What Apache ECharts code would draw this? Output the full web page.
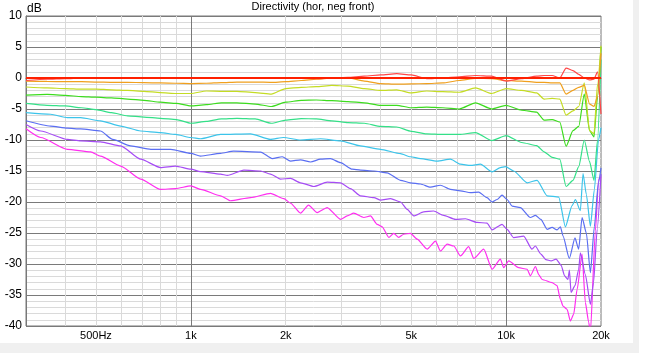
<!DOCTYPE html>
<html>
<head>
<meta charset="utf-8">
<title>Directivity (hor, neg front)</title>
<script src="https://cdn.jsdelivr.net/npm/echarts@6.0.0/dist/echarts.min.js"></script>
<style>
  html, body { margin: 0; padding: 0; background: #fff; }
  #chart { width: 645px; height: 353px; }
</style>
</head>
<body>
<div id="chart"></div>
<script>
// common frequency grid (Hz) for the upper curves
const freqs = [300, 350, 400, 450, 500, 560, 630, 710, 800, 900,
  1000, 1120, 1250, 1400, 1600, 1800, 2000, 2240, 2500, 2800,
  3150, 3550, 4000, 4500, 5000, 5600, 6300, 7100, 8000, 9000,
  10000, 11200, 12500, 13200, 14000, 14800, 15500, 16300, 17000, 17700,
  18400, 19000, 19500, 20000];

// dB values
const refFlat = [0, 0, 0, 0, 0, 0, 0, 0, 0, 0,
  0, 0, 0, 0, 0, 0, 0, 0, 0, 0,
  0, 0, 0, 0, 0, 0, 0, 0, 0, 0,
  0, 0, 0, 0, 0, 0, 0, 0, 0, 0,
  0, 0, 0, 0];
const curveRed = [-0.4, -0.2, -0.1, 0, 0, 0, 0, 0, 0, 0,
  0, 0, 0, 0, 0, 0, 0, 0, -0.1, 0,
  0.1, 0.3, 0.5, 0.7, 0.5, -0.1, 0, 0.2, 0.4, 0.3,
  -0.5, -0.1, 0.3, 0.4, 0.4, 0, 1.6, 1.2, 0.6, 0,
  -0.3, -0.2, 1.0, -5.8];
const curveOrange = [-0.5, -0.55, -0.6, -0.6, -0.65, -0.7, -0.7, -0.75, -0.8, -0.85,
  -0.9, -0.85, -0.75, -0.65, -0.65, -0.7, -0.6, -0.4, -0.2, 0,
  0.05, -0.5, -0.9, -1.0, -0.95, -0.9, -0.8, -0.4, -0.05, -0.1,
  -0.4, -0.5, -0.7, -0.7, -0.8, -0.8, -2.6, -2.0, -1.5, -1.2,
  -4.2, -4.6, -3.0, 4.0];
const curveYellow = [-1.45, -1.6, -1.7, -1.8, -1.8, -1.9, -2.0, -2.15, -2.35, -2.5,
  -2.5, -2.1, -2.15, -2.15, -2.35, -2.6, -1.7, -1.5, -1.4, -1.2,
  -1.3, -1.7, -2.0, -1.9, -2.4, -2.1, -2.2, -2.3, -1.6, -2.5,
  -1.7, -2.0, -2.4, -3.4, -3.3, -3.4, -6.0, -5.3, -4.6, -0.8,
  -8.5, -9.0, -1.0, 5.2];
const curveGreen = [-2.75, -2.65, -2.8, -3.0, -3.1, -3.2, -3.4, -3.6, -3.9, -4.1,
  -4.5, -4.3, -4.0, -4.0, -4.2, -4.6, -3.9, -3.6, -3.55, -3.65,
  -3.8, -4.0, -4.4, -4.4, -4.8, -4.7, -4.8, -5.0, -4.0, -5.0,
  -4.4, -5.2, -5.5, -6.8, -6.7, -7.1, -11.0, -8.5, -7.8, -2.6,
  -8.5, -9.5, -3.0, 5.0];
const curveSpring = [-4.1, -4.4, -4.5, -4.8, -5.1, -5.6, -6.1, -6.3, -6.5, -6.7,
  -7.3, -7.0, -6.6, -6.5, -6.6, -7.3, -6.8, -6.55, -6.6, -6.9,
  -7.2, -7.3, -7.8, -7.9, -8.6, -9.0, -9.1, -9.1, -8.8, -10.1,
  -9.3, -10.4, -10.9, -11.9, -12.8, -13.1, -17.5, -16.5, -14.3, -10.0,
  -13.5, -16.5, -10.0, 3.0];

// the lower curves are read at their own points (more detail)
const cyanFreq = [300, 359, 406, 447, 517, 599, 693, 801, 894, 1000,
  1073, 1242, 1546, 1789, 1967, 2228, 2578, 2983, 3452, 3995,
  4624, 4973, 5349, 6043, 6658, 7165, 7707, 8289, 9026, 9592,
  9950, 10571, 11660, 12540, 13490, 14690, 15420, 16190, 16590, 17200,
  17540, 17970, 18510, 19050, 19640, 20000];
const cyanDb = [-5.6, -5.85, -6.4, -6.4, -6.9, -7.75, -8.55, -8.8, -9.1, -9.6,
  -9.8, -9.1, -9.0, -9.9, -9.6, -10.0, -9.8, -10.15, -10.95, -11.5,
  -12.2, -12.7, -13.0, -13.4, -13.1, -13.9, -14.1, -13.9, -15.15, -14.45,
  -14.3, -15.0, -16.9, -16.5, -19.0, -19.2, -24.0, -20.6, -19.6, -21.4,
  -15.4, -18.8, -23.9, -18.0, -10.0, -8.0];

const blueFreq = [300, 359, 406, 447, 517, 565, 644, 747, 864, 1000,
  1073, 1242, 1366, 1665, 1812, 1949, 2072, 2228, 2396, 2578,
  2773, 2983, 3250, 3452, 3809, 4195, 4624, 4973, 5349, 5754,
  6190, 6658, 7165, 7707, 8188, 8699, 9026, 9365, 9708, 10073,
  10447, 11100, 11940, 12390, 12890, 13490, 13990, 14510, 14870, 15160,
  15870, 16540, 16990, 17420, 17970, 18510, 19050, 19610, 20000];
const blueDb = [-6.9, -7.75, -8.1, -8.2, -8.55, -9.9, -10.95, -11.5, -11.5, -12.15,
  -12.6, -12.15, -11.8, -11.95, -13.0, -12.7, -13.4, -13.2, -13.55, -13.1,
  -13.0, -13.65, -14.7, -14.85, -15.0, -15.3, -16.5, -16.9, -17.1, -17.6,
  -17.3, -17.95, -18.2, -18.5, -18.4, -19.3, -20.0, -19.6, -18.9, -19.6,
  -20.65, -20.9, -22.5, -22.15, -22.8, -24.4, -24.1, -24.5, -24.0, -25.5,
  -29.1, -25.8, -27.6, -22.5, -25.0, -31.4, -24.0, -17.0, -14.5];

const violetFreq = [300, 334, 406, 447, 517, 599, 693, 801, 894, 1000,
  1073, 1242, 1305, 1473, 1665, 1789, 1923, 2072, 2228, 2455,
  2707, 2983, 3209, 3452, 3809, 4000, 4300, 4624, 4855, 5093,
  5477, 5891, 6336, 6908, 7430, 8087, 8699, 9026, 9708, 10073,
  10571, 11372, 12080, 12380, 12890, 13380, 13890, 14410, 14950, 15330,
  15700, 15880, 16070, 16540, 16990, 17200, 17840, 18510, 18940, 19450,
  20000];
const violetDb = [-7.5, -8.55, -9.9, -10.15, -10.3, -10.95, -13.1, -14.45, -14.2, -14.7,
  -15.1, -15.5, -15.7, -14.85, -15.0, -15.5, -16.3, -16.2, -16.9, -17.5,
  -16.8, -16.9, -17.85, -19.0, -19.3, -19.7, -19.45, -20.0, -21.2, -22.25,
  -21.6, -21.45, -22.15, -22.8, -22.7, -23.3, -23.4, -24.5, -23.6, -24.4,
  -25.75, -25.5, -27.6, -27.1, -28.4, -29.3, -29.5, -29.2, -30.2, -31.9,
  -32.5, -31.0, -34.6, -33.5, -30.85, -28.2, -31.7, -36.5, -33.0, -24.4,
  -15.5];

const magentaFreq = [300, 334, 406, 481, 517, 599, 693, 801, 894, 1000,
  1073, 1242, 1336, 1546, 1789, 1972, 2072, 2228, 2362, 2516,
  2707, 2983, 3133, 3287, 3536, 3714, 3899, 4045, 4245, 4402,
  4565, 4735, 4973, 5223, 5617, 5969, 6190, 6501, 6823, 7165,
  7609, 7896, 8492, 9030, 9592, 9826, 10191, 10962, 11660, 11940,
  12390, 12690, 13010, 13990, 14510, 14870, 15160, 15610, 15990, 16380,
  16800, 17420, 17840, 18280, 18510, 19190, 19660, 20000];
const magentaDb = [-8.2, -9.6, -11.5, -11.9, -12.6, -14.2, -16.3, -17.95, -17.85, -17.4,
  -17.95, -19.0, -19.8, -19.3, -18.6, -19.45, -20.2, -21.8, -20.5, -21.7,
  -20.9, -22.8, -22.25, -21.8, -22.5, -22.25, -23.6, -24.0, -25.7, -25.05,
  -25.7, -25.2, -25.05, -26.0, -27.6, -26.3, -27.9, -26.8, -27.1, -28.7,
  -27.2, -29.1, -27.6, -30.85, -29.2, -30.6, -29.5, -30.6, -30.85, -31.9,
  -30.4, -31.7, -32.5, -33.0, -33.5, -35.7, -36.8, -37.3, -39.2, -38.1,
  -34.1, -28.4, -36.2, -39.4, -41.0, -24.7, -16.3, -16.0];

// axis ticks / grid positions
const xLabelValues = [500, 1000, 2000, 5000, 10000, 20000];
const xMajorGrid = [1000, 10000];
const xMinorGrid = [400, 500, 600, 700, 800, 900, 2000, 3000, 4000, 5000, 6000, 7000, 8000, 9000];

// drawing order: bottom curve first, flat reference line last (on top)
const curves = [
  { name: 'magenta', x: magentaFreq, y: magentaDb, color: '#ff2ef0', width: 1.2 },
  { name: 'violet', x: violetFreq, y: violetDb, color: '#a64cf5', width: 1.2 },
  { name: 'blue', x: blueFreq, y: blueDb, color: '#5a6ef2', width: 1.2 },
  { name: 'cyan', x: cyanFreq, y: cyanDb, color: '#3cc4ea', width: 1.2 },
  { name: 'spring', x: freqs, y: curveSpring, color: '#34e088', width: 1.2 },
  { name: 'green', x: freqs, y: curveGreen, color: '#3cdc1e', width: 1.2 },
  { name: 'yellow', x: freqs, y: curveYellow, color: '#c4dc24', width: 1.2 },
  { name: 'orange', x: freqs, y: curveOrange, color: '#f0a01e', width: 1.2 },
  { name: 'red', x: freqs, y: curveRed, color: '#ff4646', width: 1.2 },
  { name: 'ref', x: freqs, y: refFlat, color: '#ff2000', width: 2 }
];

function toPairs(xs, ys) {
  return xs.map((f, i) => [f, ys[i]]);
}

function freqLabel(v) {
  if (v < 1000) return v + 'Hz';
  return (v / 1000) + 'k';
}

const chart = echarts.init(document.getElementById('chart'));

const option = {
  animation: false,
  backgroundColor: '#fff',
  textStyle: { fontFamily: 'Liberation Sans, Arial, sans-serif' },
  title: {
    text: 'Directivity (hor, neg front)',
    left: 313,
    top: 1,
    padding: 0,
    textAlign: 'center',
    textStyle: { fontSize: 11, fontWeight: 'normal', color: '#000' }
  },
  grid: {
    left: 26, top: 16, width: 575, height: 310,
    show: true, borderColor: '#787878', borderWidth: 1
  },
  xAxis: [
    {
      // light grid lines every 100 Hz / 1 kHz
      type: 'log', min: 300, max: 20000,
      axisLine: { show: false },
      axisTick: { show: false, customValues: xMinorGrid },
      axisLabel: { show: false },
      splitLine: { show: true, lineStyle: { color: '#dadada', width: 1 } }
    },
    {
      type: 'log', min: 300, max: 20000, position: 'bottom',
      axisLine: { show: true, lineStyle: { color: '#787878' } },
      axisTick: { show: false, customValues: xMajorGrid },
      axisLabel: {
        customValues: xLabelValues, formatter: freqLabel,
        color: '#000', fontSize: 11, margin: 4,
        showMinLabel: true, showMaxLabel: true
      },
      splitLine: { show: true, lineStyle: { color: '#7a7a7a', width: 1 } }
    }
  ],
  yAxis: [
    {
      type: 'value', min: -40, max: 10, interval: 1, position: 'right',
      axisLine: { show: false },
      axisTick: { show: false },
      axisLabel: { show: false },
      splitLine: { show: true, lineStyle: { color: '#dadada', width: 1 } }
    },
    {
      type: 'value', min: -40, max: 10, interval: 5, position: 'left',
      axisLine: { show: true, lineStyle: { color: '#787878' } },
      axisTick: { show: false },
      axisLabel: { color: '#000', fontSize: 12, margin: 4 },
      splitLine: { show: true, lineStyle: { color: '#7a7a7a', width: 1 } }
    }
  ],
  graphic: [
    { type: 'rect', shape: { x: 0, y: 343, width: 638, height: 10 }, style: { fill: '#f0f0f0' }, silent: true },
    { type: 'rect', shape: { x: 633, y: 0, width: 6, height: 353 }, style: { fill: '#f0f0f0' }, silent: true },
    // unit label above the y axis
    {
      type: 'text', left: 27, top: 3, silent: true,
      style: { text: 'dB', fontSize: 12, fontFamily: 'Liberation Sans, Arial, sans-serif', fill: '#000' }
    }
  ],
  series: curves.map(c => ({
    name: c.name,
    type: 'line',
    xAxisIndex: 1,
    yAxisIndex: 1,
    data: toPairs(c.x, c.y),
    showSymbol: false,
    smooth: 0.2,
    smoothMonotone: 'x',
    clip: true,
    silent: true,
    lineStyle: { color: c.color, width: c.width }
  }))
};

chart.setOption(option);
</script>
</body>
</html>
